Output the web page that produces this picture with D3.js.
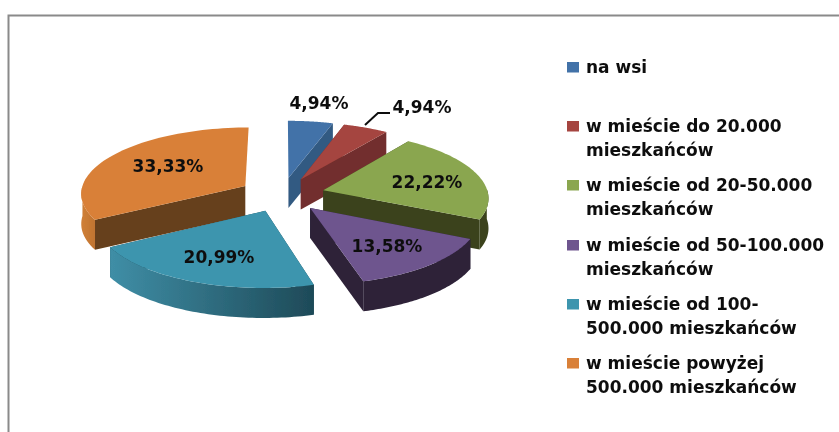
<!DOCTYPE html>
<html><head><meta charset="utf-8">
<script src="https://cdn.jsdelivr.net/npm/d3@7"></script>
<style>html,body{margin:0;padding:0;background:#fff}svg{display:block}
text{font-family:"DejaVu Sans",sans-serif;font-weight:bold;fill:#111}</style></head>
<body><svg id="c" width="839" height="432"></svg>
<script>
const categories=["na wsi","w mieście do 20.000 mieszkańców","w mieście od 20-50.000 mieszkańców","w mieście od 50-100.000 mieszkańców","w mieście od 100-500.000 mieszkańców","w mieście powyżej 500.000 mieszkańców"];
const legendLines=[["na wsi"],["w mieście do 20.000","mieszkańców"],["w mieście od 20-50.000","mieszkańców"],["w mieście od 50-100.000","mieszkańców"],["w mieście od 100-","500.000 mieszkańców"],["w mieście powyżej","500.000 mieszkańców"]];
const values=[4.94,4.94,22.22,13.58,20.99,33.33];
const valueLabels=["4,94%","4,94%","22,22%","13,58%","20,99%","33,33%"];
const topColors=["#4272a8","#a5443f","#8aa64f","#6e548e","#3e95ae","#d98038"];
const wallColors=["#335a82","#722f2d","#3a431c","#2d2238","#1f4a57","#66401a"];
const arcLight=["#335a82","#722f2d","#3a431c","#2d2238","#3f8ea6","#d08038"];
const arcDark=["#335a82","#722f2d","#3a431c","#2d2238","#1e4a58","#c07430"];
const labelPos=[[319,103],[422,107],[427,182],[387,246],[219,257],[168,166]];
const legendY=[67,126,185,245,304,363];
const drawOrder=[0,1,5,2,3,4];

const svg=d3.select("#c");
const cx=282,cy=194.5,R=165,Ry=66,k=0.1,depth=30,explode=0.26;
const proj=(u,v)=>{const s=1/(1+k*v);return [cx+R*u*s,cy-Ry*v*s];};
const pieGen=d3.pie().sort(null).value(d=>d);
const arcs=pieGen(values);
const line=d3.line();
const defs=svg.append("defs");
defs.append("filter").attr("id","soft").append("feGaussianBlur").attr("stdDeviation",0.45);

const root=svg.append("g").attr("filter","url(#soft)");

// frame
root.append("path").attr("d","M8.5,432V15.5H839").attr("fill","none").attr("stroke","#8a8a8a").attr("stroke-width",2);

arcs.forEach((a,i)=>{
  const g=defs.append("linearGradient").attr("id","g"+i);
  g.append("stop").attr("offset",0).attr("stop-color",arcLight[i]);
  g.append("stop").attr("offset",1).attr("stop-color",arcDark[i]);
});

drawOrder.forEach(i=>{
  const a=arcs[i],mid=(a.startAngle+a.endAngle)/2;
  const ou=explode*Math.sin(mid),ov=explode*Math.cos(mid);
  const apex=proj(ou,ov);
  const ang=d3.range(0,61).map(t=>a.startAngle+(a.endAngle-a.startAngle)*t/60);
  const rim=ang.map(t=>proj(ou+Math.sin(t),ov+Math.cos(t)));
  const frontRim=ang.filter(t=>Math.cos(t)<0.03).map(t=>proj(ou+Math.sin(t),ov+Math.cos(t)));
  const down=p=>[p[0],p[1]+depth];
  const g=root.append("g");
  [rim[0],rim[rim.length-1]].forEach(e=>{
    if(Math.abs(e[0]-apex[0])<8) return; // edge seen end-on: no visible cut face
    g.append("path").attr("d",line([apex,e,down(e),down(apex)])+"Z").attr("fill",wallColors[i]);
  });
  if(frontRim.length>1)
    g.append("path").attr("d",line(frontRim.concat(frontRim.slice().reverse().map(down)))+"Z").attr("fill",`url(#g${i})`);
  g.append("path").attr("d",line([apex].concat(rim))+"Z").attr("fill",topColors[i]);
});

root.append("path").attr("d","M365,125L378,113H390").attr("fill","none").attr("stroke","#111").attr("stroke-width",2);

root.selectAll("text.v").data(valueLabels).join("text").attr("class","v")
  .attr("x",(d,i)=>labelPos[i][0]).attr("y",(d,i)=>labelPos[i][1]).attr("text-anchor","middle")
  .attr("dominant-baseline","central").attr("font-size",17).text(d=>d);

const leg=root.selectAll("g.l").data(legendLines).join("g").attr("class","l");
leg.append("rect").attr("x",567).attr("y",(d,i)=>legendY[i]-5).attr("width",12).attr("height",10.5).attr("fill",(d,i)=>topColors[i]);
leg.each(function(d,i){
  d3.select(this).selectAll("text").data(d).join("text").attr("x",586)
   .attr("y",(t,j)=>legendY[i]+j*23.7).attr("dominant-baseline","central").attr("font-size",17).text(t=>t);
});
</script></body></html>
